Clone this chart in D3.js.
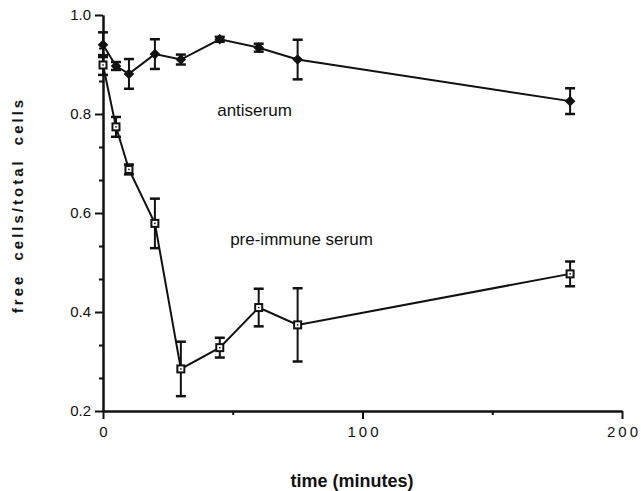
<!DOCTYPE html>
<html>
<head>
<meta charset="utf-8">
<script src="https://cdn.jsdelivr.net/npm/d3@7"></script>
<style>
  body { margin: 0; background: #fff; }
  svg { display: block; }
  .tick text { font-family: "Liberation Sans", Arial, sans-serif; fill: #111; }
</style>
</head>
<body>
<div id="chart"></div>
<script>
// data
var times = [0, 5, 10, 20, 30, 45, 60, 75, 180];
var antiserum = [0.940, 0.897, 0.881, 0.921, 0.910, 0.951, 0.934, 0.910, 0.826];
var antiserumErr = [0.025, 0.008, 0.030, 0.030, 0.010, 0.005, 0.008, 0.040, 0.026];
var preImmune = [0.899, 0.774, 0.688, 0.579, 0.285, 0.328, 0.409, 0.374, 0.477];
var preImmuneErr = [0.020, 0.020, 0.010, 0.050, 0.055, 0.020, 0.038, 0.074, 0.025];

var yMajor = [0.2, 0.4, 0.6, 0.8, 1.0];
var yMinor = [0.2667, 0.3333, 0.4667, 0.5333, 0.6667, 0.7333, 0.8667, 0.9333];
var xMajor = [0, 100, 200];
var xMinor = [50, 150];

var svgWidth = 641;
var svgHeight = 491;

var margin = { top: 15, right: 19, bottom: 80, left: 103 };
var width = svgWidth - margin.left - margin.right;
var height = svgHeight - margin.top - margin.bottom;

var svg = d3.select("#chart")
  .append("svg")
  .attr("width", svgWidth)
  .attr("height", svgHeight);

var chartGroup = svg.append("g")
  .attr("transform", `translate(${margin.left}, ${margin.top})`);

var x = d3.scaleLinear().domain([0, 200]).range([0, width]);
var y = d3.scaleLinear().domain([0.2, 1.0]).range([height, 0]);

// axes
var yMinorAxis = chartGroup.append("g")
  .call(d3.axisLeft(y).tickValues(yMinor).tickSize(4).tickSizeOuter(0).tickFormat(""));
var yAxis = chartGroup.append("g")
  .call(d3.axisLeft(y).tickValues(yMajor).tickSize(8).tickSizeOuter(0).tickPadding(4).tickFormat(d3.format(".1f")));
var xMinorAxis = chartGroup.append("g")
  .attr("transform", `translate(0, ${height})`)
  .call(d3.axisBottom(x).tickValues(xMinor).tickSize(4).tickSizeOuter(0).tickFormat(""));
var xAxis = chartGroup.append("g")
  .attr("transform", `translate(0, ${height})`)
  .call(d3.axisBottom(x).tickValues(xMajor).tickSize(8).tickSizeOuter(0).tickPadding(7));

[yMinorAxis, yAxis, xMinorAxis, xAxis].forEach(function(g) {
  g.selectAll("path").attr("stroke", "#111").attr("stroke-width", 2);
  g.selectAll("line").attr("stroke", "#111").attr("stroke-width", 2);
});
yAxis.selectAll("text").style("font-size", "15px");
xAxis.selectAll("text").style("font-size", "15px").style("letter-spacing", "3px").attr("dx", "1.5");

// error bars
function drawErrors(vals, errs) {
  var g = chartGroup.append("g").attr("stroke", "#111").attr("stroke-width", 2);
  times.forEach(function(t, i) {
    var cx = x(t), top = y(vals[i] + errs[i]), bot = y(vals[i] - errs[i]);
    g.append("line").attr("x1", cx).attr("x2", cx).attr("y1", top).attr("y2", bot);
    g.append("line").attr("x1", cx - 5).attr("x2", cx + 5).attr("y1", top).attr("y2", top).attr("stroke-width", 2.5);
    g.append("line").attr("x1", cx - 5).attr("x2", cx + 5).attr("y1", bot).attr("y2", bot).attr("stroke-width", 2.5);
  });
}
drawErrors(antiserum, antiserumErr);
drawErrors(preImmune, preImmuneErr);

// lines
var line = d3.line()
  .x(function(d) { return x(d[0]); })
  .y(function(d) { return y(d[1]); });

chartGroup.append("path")
  .datum(d3.zip(times, antiserum))
  .attr("d", line)
  .attr("fill", "none")
  .attr("stroke", "#111")
  .attr("stroke-width", 2);

chartGroup.append("path")
  .datum(d3.zip(times, preImmune))
  .attr("d", line)
  .attr("fill", "none")
  .attr("stroke", "#111")
  .attr("stroke-width", 2);

// filled diamonds for antiserum
chartGroup.selectAll(".diamond")
  .data(d3.zip(times, antiserum))
  .enter()
  .append("path")
  .attr("class", "diamond")
  .attr("d", d3.symbol().type(d3.symbolDiamond2).size(72))
  .attr("transform", d => `translate(${x(d[0])}, ${y(d[1])})`)
  .attr("fill", "#111");

// open squares with a dot for pre-immune serum
var sq = chartGroup.selectAll(".sq")
  .data(d3.zip(times, preImmune))
  .enter()
  .append("g")
  .attr("class", "sq")
  .attr("transform", d => `translate(${x(d[0])}, ${y(d[1])})`);
sq.append("rect")
  .attr("x", -3.5).attr("y", -3.5)
  .attr("width", 7).attr("height", 7)
  .attr("fill", "#fff")
  .attr("stroke", "#111")
  .attr("stroke-width", 2);
sq.append("rect")
  .attr("x", -0.75).attr("y", -0.75)
  .attr("width", 1.5).attr("height", 1.5)
  .attr("fill", "#111");

// series labels
chartGroup.append("text")
  .attr("x", x(44))
  .attr("y", y(0.795))
  .style("font-family", "Liberation Sans, Arial, sans-serif")
  .style("font-size", "17px")
  .attr("fill", "#111")
  .text("antiserum");

chartGroup.append("text")
  .attr("x", x(49))
  .attr("y", y(0.535))
  .style("font-family", "Liberation Sans, Arial, sans-serif")
  .style("font-size", "17px")
  .attr("fill", "#111")
  .text("pre-immune serum");

// axis titles
svg.append("text")
  .attr("transform", `translate(23, 205) rotate(-90)`)
  .attr("text-anchor", "middle")
  .style("font-family", "Liberation Sans, Arial, sans-serif")
  .style("font-size", "15px")
  .style("font-weight", "bold")
  .style("letter-spacing", "3px")
  .style("word-spacing", "6px")
  .attr("fill", "#111")
  .text("free cells/total cells");

svg.append("text")
  .attr("x", 352)
  .attr("y", 487)
  .attr("text-anchor", "middle")
  .style("font-family", "Liberation Sans, Arial, sans-serif")
  .style("font-size", "18px")
  .style("font-weight", "bold")
  .attr("fill", "#111")
  .text("time (minutes)");
</script>
</body>
</html>
